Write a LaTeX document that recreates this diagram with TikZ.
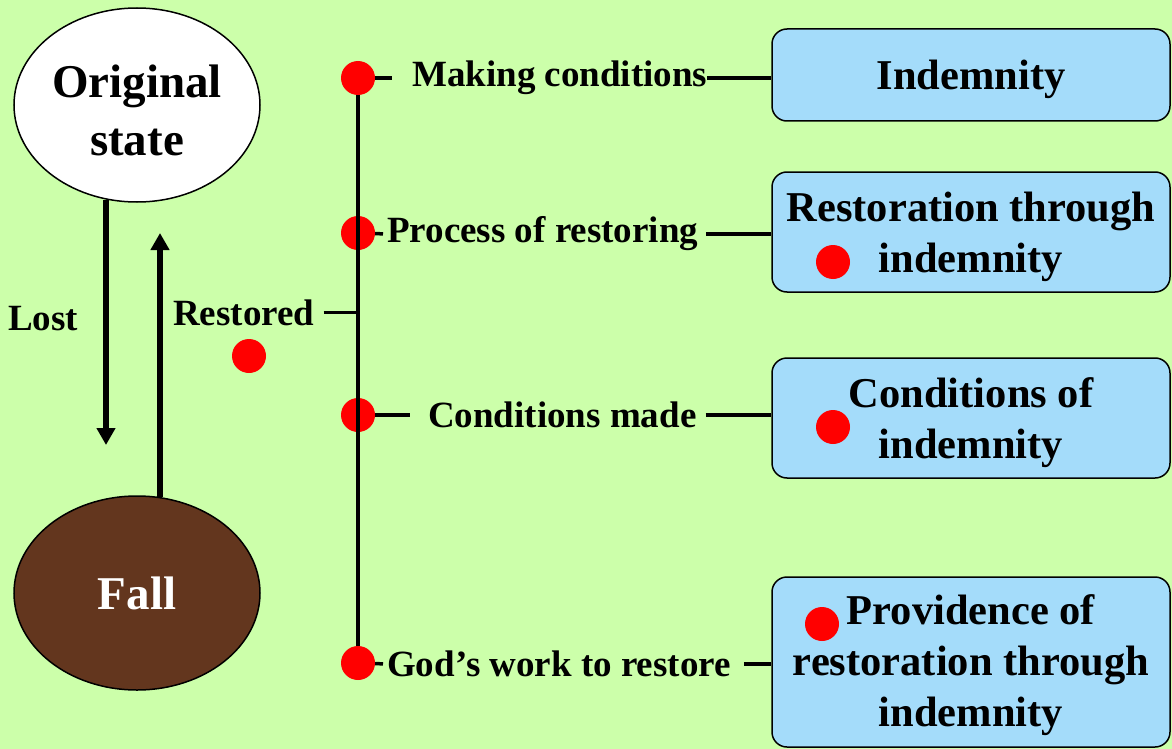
\documentclass[tikz,border=0pt]{standalone}
\usepackage{fontspec}
\setmainfont{Liberation Serif}
\usetikzlibrary{arrows.meta,shapes.geometric}
\definecolor{bggreen}{RGB}{204,255,170}
\definecolor{boxblue}{RGB}{164,220,250}
\definecolor{fallbrown}{RGB}{99,54,30}
\newcommand{\topstrut}[1]{\rule{0pt}{#1}}

\begin{document}
\begin{tikzpicture}[
    x=1pt, y=-1pt,
    >={Triangle[length=17pt,width=18pt]},
    state/.style={ellipse,draw,line width=1.5pt,minimum width=246pt,
        minimum height=194pt,inner sep=0pt,align=center,
        font=\fontsize{47}{58}\selectfont\bfseries},
    lbl/.style={inner sep=0pt,font=\fontsize{37}{44}\selectfont\bfseries},
    res/.style={draw,fill=boxblue,line width=1.5pt,rounded corners=15pt,
        minimum width=398pt,inner sep=0pt,align=center,
        font=\fontsize{42.5}{51}\selectfont\bfseries},
    dot/.style={circle,fill=red,minimum size=34pt,inner sep=0pt},
    conn/.style={line width=3.5pt},
    arr/.style={->,line width=6pt},
]
\fill[bggreen] (0,0) rectangle (1172,749);
\useasboundingbox (0,0) rectangle (1172,749);

% Original state and Fall
\node[state,fill=white] (orig) at (137,105) {\topstrut{44pt}Original\\state};
\node[state,fill=fallbrown,text=white] (fall) at (137,593) {Fall};

\coordinate (losttip) at (106,445);
\coordinate (resttip) at (160,233);
\draw[arr] (losttip |- orig.252) -- (losttip);
\draw[arr] (resttip |- fall.76) -- (resttip);

\node[lbl,anchor=base west] (lost) at (8,330) {Lost};
\node[lbl,anchor=base west] (rest) at (173,325) {Restored};
\node[dot] (rdot) at (249,356) {};

% Spine with four points
\node[dot] (d1) at (358,78) {};
\node[dot] (d2) at (358,233) {};
\node[dot] (d3) at (358,415) {};
\node[dot] (d4) at (358,663) {};
\draw[conn] (d1) -- (d4);
\draw[conn,shorten <=9pt] (rest.east) -- (rest.east -| d1.center);

% Labels
\node[lbl,anchor=west] (t1) at (412,78) {Making conditions};
\node[lbl,anchor=west] (t2) at (387,234) {Process of restoring};
\node[lbl,anchor=west] (t3) at (428,415) {Conditions made};
\node[lbl,anchor=west] (t4) at (387,664) {God’s work to restore};

% Boxes
\node[res,minimum height=92pt] (b1) at (971,75) {\topstrut{39pt}Indemnity};
\node[res,minimum height=120pt] (b2) at (971,232)
    {\topstrut{39pt}Restoration through\\indemnity};
\node[res,minimum height=120pt] (b3) at (971,418)
    {\topstrut{39pt}Conditions of\\indemnity};
\node[res,minimum height=170pt] (b4) at (971,662)
    {\topstrut{37pt}Providence of\\restoration through\\indemnity};

\node[dot] (bd2) at (833,262) {};
\node[dot] (bd3) at (833,427) {};
\node[dot] (bd4) at (822,624) {};

% Connectors
\draw[conn,shorten >=20pt] (d1) -- (t1.west);
\draw[conn,shorten >=4pt] (d2) -- (t2.west);
\draw[conn,shorten >=18pt] (d3) -- (t3.west);
\draw[conn,shorten >=4pt] (d4) -- (t4.west);

\draw[conn] (t1.east) -- (t1.east -| b1.west);
\draw[conn,shorten <=8pt] (t2.east) -- (t2.east -| b2.west);
\draw[conn,shorten <=9pt] (t3.east) -- (t3.east -| b3.west);
\draw[conn,shorten <=13pt] (t4.east) -- (t4.east -| b4.west);
\end{tikzpicture}
\end{document}
